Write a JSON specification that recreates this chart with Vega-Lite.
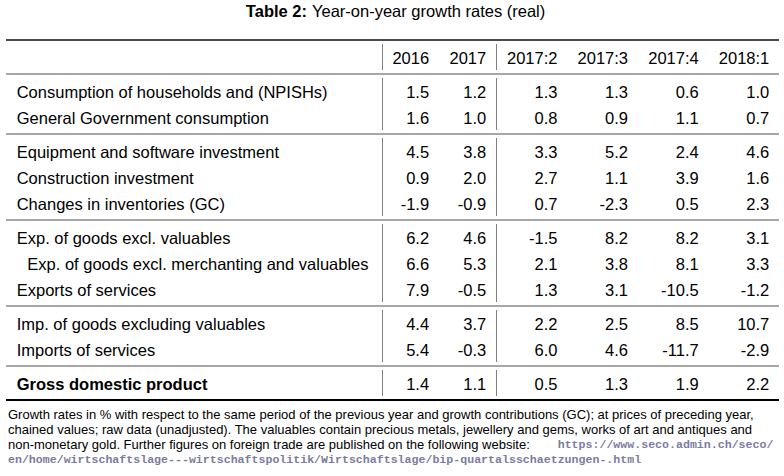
{
  "$schema": "https://vega.github.io/schema/vega-lite/v6.json",
  "background": "white",
  "padding": {"left": 5, "top": 0, "right": 6, "bottom": 0},
  "spacing": 15,
  "config": {
    "view": {"stroke": null},
    "text": {"font": "Liberation Sans", "fontSize": 16.5, "color": "black", "baseline": "middle"},
    "locale": {"number": {"decimal": ".", "thousands": ",", "grouping": [3], "currency": ["$", ""], "minus": "-"}}
  },
  "datasets": {
    "title": [
      {"part": "label", "text": "Table 2:"},
      {"part": "name", "text": "Year-on-year growth rates (real)"}
    ],
    "cells": [
      {"g": 0, "row": "header", "period": "2016"},
      {"g": 0, "row": "header", "period": "2017"},
      {"g": 0, "row": "header", "period": "2017:2"},
      {"g": 0, "row": "header", "period": "2017:3"},
      {"g": 0, "row": "header", "period": "2017:4"},
      {"g": 0, "row": "header", "period": "2018:1"},
      {"g": 1, "row": "Consumption of households and (NPISHs)", "period": "2016", "value": 1.5},
      {"g": 1, "row": "Consumption of households and (NPISHs)", "period": "2017", "value": 1.2},
      {"g": 1, "row": "Consumption of households and (NPISHs)", "period": "2017:2", "value": 1.3},
      {"g": 1, "row": "Consumption of households and (NPISHs)", "period": "2017:3", "value": 1.3},
      {"g": 1, "row": "Consumption of households and (NPISHs)", "period": "2017:4", "value": 0.6},
      {"g": 1, "row": "Consumption of households and (NPISHs)", "period": "2018:1", "value": 1.0},
      {"g": 1, "row": "General Government consumption", "period": "2016", "value": 1.6},
      {"g": 1, "row": "General Government consumption", "period": "2017", "value": 1.0},
      {"g": 1, "row": "General Government consumption", "period": "2017:2", "value": 0.8},
      {"g": 1, "row": "General Government consumption", "period": "2017:3", "value": 0.9},
      {"g": 1, "row": "General Government consumption", "period": "2017:4", "value": 1.1},
      {"g": 1, "row": "General Government consumption", "period": "2018:1", "value": 0.7},
      {"g": 2, "row": "Equipment and software investment", "period": "2016", "value": 4.5},
      {"g": 2, "row": "Equipment and software investment", "period": "2017", "value": 3.8},
      {"g": 2, "row": "Equipment and software investment", "period": "2017:2", "value": 3.3},
      {"g": 2, "row": "Equipment and software investment", "period": "2017:3", "value": 5.2},
      {"g": 2, "row": "Equipment and software investment", "period": "2017:4", "value": 2.4},
      {"g": 2, "row": "Equipment and software investment", "period": "2018:1", "value": 4.6},
      {"g": 2, "row": "Construction investment", "period": "2016", "value": 0.9},
      {"g": 2, "row": "Construction investment", "period": "2017", "value": 2.0},
      {"g": 2, "row": "Construction investment", "period": "2017:2", "value": 2.7},
      {"g": 2, "row": "Construction investment", "period": "2017:3", "value": 1.1},
      {"g": 2, "row": "Construction investment", "period": "2017:4", "value": 3.9},
      {"g": 2, "row": "Construction investment", "period": "2018:1", "value": 1.6},
      {"g": 2, "row": "Changes in inventories (GC)", "period": "2016", "value": -1.9},
      {"g": 2, "row": "Changes in inventories (GC)", "period": "2017", "value": -0.9},
      {"g": 2, "row": "Changes in inventories (GC)", "period": "2017:2", "value": 0.7},
      {"g": 2, "row": "Changes in inventories (GC)", "period": "2017:3", "value": -2.3},
      {"g": 2, "row": "Changes in inventories (GC)", "period": "2017:4", "value": 0.5},
      {"g": 2, "row": "Changes in inventories (GC)", "period": "2018:1", "value": 2.3},
      {"g": 3, "row": "Exp. of goods excl. valuables", "period": "2016", "value": 6.2},
      {"g": 3, "row": "Exp. of goods excl. valuables", "period": "2017", "value": 4.6},
      {"g": 3, "row": "Exp. of goods excl. valuables", "period": "2017:2", "value": -1.5},
      {"g": 3, "row": "Exp. of goods excl. valuables", "period": "2017:3", "value": 8.2},
      {"g": 3, "row": "Exp. of goods excl. valuables", "period": "2017:4", "value": 8.2},
      {"g": 3, "row": "Exp. of goods excl. valuables", "period": "2018:1", "value": 3.1},
      {"g": 3, "row": "Exp. of goods excl. merchanting and valuables", "period": "2016", "value": 6.6},
      {"g": 3, "row": "Exp. of goods excl. merchanting and valuables", "period": "2017", "value": 5.3},
      {"g": 3, "row": "Exp. of goods excl. merchanting and valuables", "period": "2017:2", "value": 2.1},
      {"g": 3, "row": "Exp. of goods excl. merchanting and valuables", "period": "2017:3", "value": 3.8},
      {"g": 3, "row": "Exp. of goods excl. merchanting and valuables", "period": "2017:4", "value": 8.1},
      {"g": 3, "row": "Exp. of goods excl. merchanting and valuables", "period": "2018:1", "value": 3.3},
      {"g": 3, "row": "Exports of services", "period": "2016", "value": 7.9},
      {"g": 3, "row": "Exports of services", "period": "2017", "value": -0.5},
      {"g": 3, "row": "Exports of services", "period": "2017:2", "value": 1.3},
      {"g": 3, "row": "Exports of services", "period": "2017:3", "value": 3.1},
      {"g": 3, "row": "Exports of services", "period": "2017:4", "value": -10.5},
      {"g": 3, "row": "Exports of services", "period": "2018:1", "value": -1.2},
      {"g": 4, "row": "Imp. of goods excluding valuables", "period": "2016", "value": 4.4},
      {"g": 4, "row": "Imp. of goods excluding valuables", "period": "2017", "value": 3.7},
      {"g": 4, "row": "Imp. of goods excluding valuables", "period": "2017:2", "value": 2.2},
      {"g": 4, "row": "Imp. of goods excluding valuables", "period": "2017:3", "value": 2.5},
      {"g": 4, "row": "Imp. of goods excluding valuables", "period": "2017:4", "value": 8.5},
      {"g": 4, "row": "Imp. of goods excluding valuables", "period": "2018:1", "value": 10.7},
      {"g": 4, "row": "Imports of services", "period": "2016", "value": 5.4},
      {"g": 4, "row": "Imports of services", "period": "2017", "value": -0.3},
      {"g": 4, "row": "Imports of services", "period": "2017:2", "value": 6.0},
      {"g": 4, "row": "Imports of services", "period": "2017:3", "value": 4.6},
      {"g": 4, "row": "Imports of services", "period": "2017:4", "value": -11.7},
      {"g": 4, "row": "Imports of services", "period": "2018:1", "value": -2.9},
      {"g": 5, "row": "Gross domestic product", "period": "2016", "value": 1.4},
      {"g": 5, "row": "Gross domestic product", "period": "2017", "value": 1.1},
      {"g": 5, "row": "Gross domestic product", "period": "2017:2", "value": 0.5},
      {"g": 5, "row": "Gross domestic product", "period": "2017:3", "value": 1.3},
      {"g": 5, "row": "Gross domestic product", "period": "2017:4", "value": 1.9},
      {"g": 5, "row": "Gross domestic product", "period": "2018:1", "value": 2.2}
    ],
    "note": [
      {"line": 1, "seg": 1, "kind": "text", "text": "Growth rates in % with respect to the same period of the previous year and growth contributions (GC); at prices of preceding year,"},
      {"line": 2, "seg": 1, "kind": "text", "text": "chained values; raw data (unadjusted).  The valuables contain precious metals, jewellery and gems, works of art and antiques and"},
      {"line": 3, "seg": 1, "kind": "text", "text": "non-monetary gold.  Further figures on foreign trade are published on the following website:"},
      {"line": 3, "seg": 2, "kind": "url", "text": "https://www.seco.admin.ch/seco/"},
      {"line": 4, "seg": 1, "kind": "url", "text": "en/home/wirtschaftslage---wirtschaftspolitik/Wirtschaftslage/bip-quartalsschaetzungen-.html"}
    ]
  },
  "vconcat": [
    {
      "data": {"name": "title"},
      "width": 773,
      "height": 24,
      "encoding": {
        "x": {"field": "part", "type": "nominal", "axis": null, "scale": {"type": "point", "padding": 0, "domain": ["label", "name"], "range": [301, 306]}},
        "text": {"field": "text", "type": "nominal"}
      },
      "layer": [
        {"transform": [{"filter": "datum.part === 'label'"}], "mark": {"type": "text", "align": "right", "fontWeight": "bold"}},
        {"transform": [{"filter": "datum.part === 'name'"}], "mark": {"type": "text", "align": "left"}}
      ]
    },
    {
      "spacing": 6.8,
      "vconcat": [
        {
          "data": {"name": "cells"},
          "facet": {"row": {"field": "g", "type": "ordinal", "header": null}},
          "spacing": {"row": 8},
          "bounds": "flush",
          "resolve": {"scale": {"y": "independent"}},
          "spec": {
            "width": 773,
            "height": {"step": 26},
            "resolve": {"scale": {"x": "independent"}},
            "layer": [
              {
                "transform": [{"filter": "datum.period === '2016'"}, {"window": [{"op": "row_number", "as": "rn"}], "groupby": ["g"]}, {"filter": "datum.rn === 1"}],
                "mark": {"type": "rule", "yOffset": -4},
                "encoding": {
                  "y": {"field": "row", "type": "nominal", "sort": null, "axis": null, "bandPosition": 0, "scale": {"type": "band", "paddingInner": 0, "paddingOuter": 0}},
                  "stroke": {"condition": {"test": "datum.g === 0", "value": "#4a4a4a"}, "value": "#8a8a8a"},
                  "strokeWidth": {"condition": {"test": "datum.g === 0", "value": 2}, "value": 1.3}
                }
              },
              {
                "transform": [{"filter": "datum.g === 5 && datum.period === '2016'"}],
                "mark": {"type": "rule", "yOffset": 4, "stroke": "black", "strokeWidth": 2},
                "encoding": {
                  "y": {"field": "row", "type": "nominal", "sort": null, "axis": null, "bandPosition": 1, "scale": {"type": "band", "paddingInner": 0, "paddingOuter": 0}}
                }
              },
              {
                "transform": [{"filter": "datum.period === '2016'"}, {"window": [{"op": "row_number", "as": "rn"}], "groupby": ["g"]}, {"filter": "datum.rn === 1"}],
                "mark": {"type": "rule", "stroke": "#7f7f7f", "strokeWidth": 1},
                "encoding": {
                  "x": {"field": "period", "type": "nominal", "axis": null, "bandPosition": 0, "scale": {"type": "band", "domain": ["2016", "2017"], "range": [376.5, 490.7], "paddingInner": 0, "paddingOuter": 0}}
                }
              },
              {
                "transform": [{"filter": "datum.period === '2017:2'"}, {"window": [{"op": "row_number", "as": "rn"}], "groupby": ["g"]}, {"filter": "datum.rn === 1"}],
                "mark": {"type": "rule", "stroke": "#7f7f7f", "strokeWidth": 1},
                "encoding": {
                  "x": {"field": "period", "type": "nominal", "axis": null, "bandPosition": 0, "scale": {"type": "band", "domain": ["2017:2", "2017:3", "2017:4", "2018:1"], "range": [490.5, 773], "paddingInner": 0, "paddingOuter": 0}}
                }
              },
              {
                "transform": [{"filter": "datum.period === '2016' || datum.period === '2017'"}],
                "mark": {"type": "text", "align": "right", "dx": -10.5, "dy": 1.5},
                "encoding": {
                  "x": {"field": "period", "type": "nominal", "axis": null, "bandPosition": 1, "scale": {"type": "band", "domain": ["2016", "2017"], "range": [376.5, 490.7], "paddingInner": 0, "paddingOuter": 0}},
                  "y": {"field": "row", "type": "nominal", "sort": null, "axis": null, "scale": {"type": "band", "paddingInner": 0, "paddingOuter": 0}},
                  "text": {"field": "value", "type": "quantitative", "format": ".1f", "condition": {"test": "datum.g === 0", "field": "period", "type": "nominal"}}
                }
              },
              {
                "transform": [{"filter": "datum.period !== '2016' && datum.period !== '2017'"}],
                "mark": {"type": "text", "align": "right", "dx": -9.7, "dy": 1.5},
                "encoding": {
                  "x": {"field": "period", "type": "nominal", "axis": null, "bandPosition": 1, "scale": {"type": "band", "domain": ["2017:2", "2017:3", "2017:4", "2018:1"], "range": [490.5, 773], "paddingInner": 0, "paddingOuter": 0}},
                  "y": {"field": "row", "type": "nominal", "sort": null, "axis": null, "scale": {"type": "band", "paddingInner": 0, "paddingOuter": 0}},
                  "text": {"field": "value", "type": "quantitative", "format": ".1f", "condition": {"test": "datum.g === 0", "field": "period", "type": "nominal"}}
                }
              },
              {
                "transform": [{"filter": "datum.g > 0 && datum.g < 5 && datum.period === '2016' && datum.row !== 'Exp. of goods excl. merchanting and valuables'"}],
                "mark": {"type": "text", "align": "left", "dx": 10.7, "dy": 1.5},
                "encoding": {
                  "x": {"datum": "stub", "type": "nominal", "axis": null, "bandPosition": 0, "scale": {"type": "band", "domain": ["stub"], "range": [0, 376.5], "paddingInner": 0, "paddingOuter": 0}},
                  "y": {"field": "row", "type": "nominal", "sort": null, "axis": null, "scale": {"type": "band", "paddingInner": 0, "paddingOuter": 0}},
                  "text": {"field": "row", "type": "nominal"}
                }
              },
              {
                "transform": [{"filter": "datum.period === '2016' && datum.row === 'Exp. of goods excl. merchanting and valuables'"}],
                "mark": {"type": "text", "align": "left", "dx": 21.3, "dy": 1.5},
                "encoding": {
                  "x": {"datum": "stub", "type": "nominal", "axis": null, "bandPosition": 0, "scale": {"type": "band", "domain": ["stub"], "range": [0, 376.5], "paddingInner": 0, "paddingOuter": 0}},
                  "y": {"field": "row", "type": "nominal", "sort": null, "axis": null, "scale": {"type": "band", "paddingInner": 0, "paddingOuter": 0}},
                  "text": {"field": "row", "type": "nominal"}
                }
              },
              {
                "transform": [{"filter": "datum.g === 5 && datum.period === '2016'"}],
                "mark": {"type": "text", "align": "left", "dx": 10.7, "dy": 1.5, "fontWeight": "bold"},
                "encoding": {
                  "x": {"datum": "stub", "type": "nominal", "axis": null, "bandPosition": 0, "scale": {"type": "band", "domain": ["stub"], "range": [0, 376.5], "paddingInner": 0, "paddingOuter": 0}},
                  "y": {"field": "row", "type": "nominal", "sort": null, "axis": null, "scale": {"type": "band", "paddingInner": 0, "paddingOuter": 0}},
                  "text": {"field": "row", "type": "nominal"}
                }
              }
            ]
          }
        },
        {
          "data": {"name": "note"},
          "width": 773,
          "height": 58,
          "encoding": {
            "x": {"field": "seg", "type": "ordinal", "axis": null, "scale": {"type": "point", "padding": 0, "domain": [1, 2], "range": [2, 551.7]}},
            "y": {"field": "line", "type": "ordinal", "axis": null, "scale": {"type": "point", "padding": 0, "domain": [1, 2, 3, 4], "range": [7.5, 52.5]}},
            "text": {"field": "text", "type": "nominal"}
          },
          "layer": [
            {"transform": [{"filter": "datum.kind === 'text'"}], "mark": {"type": "text", "align": "left", "fontSize": 13}},
            {"transform": [{"filter": "datum.kind === 'url'"}], "mark": {"type": "text", "align": "left", "font": "Liberation Mono", "fontSize": 11.6, "fontWeight": "bold", "color": "#7b7ba0"}}
          ]
        }
      ]
    }
  ]
}
